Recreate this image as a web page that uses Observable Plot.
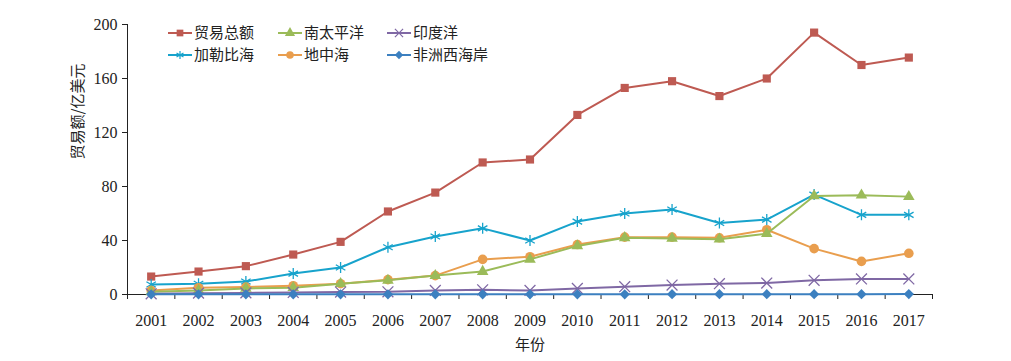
<!DOCTYPE html>
<html><head><meta charset="utf-8">
<script src="https://cdn.jsdelivr.net/npm/d3@7"></script>
<script src="https://cdn.jsdelivr.net/npm/@observablehq/plot@0.6"></script>
<style>
body{margin:0;background:#fff;}
#wrap{position:relative;width:1011px;height:361px;}
#legend{position:absolute;left:0;top:0;width:1011px;height:70px;pointer-events:none;}
</style></head><body>
<div id="wrap"><div id="chart"></div><svg id="legend" width="1011" height="70"></svg></div>
<script>
const years = [2001,2002,2003,2004,2005,2006,2007,2008,2009,2010,2011,2012,2013,2014,2015,2016,2017];
const seriesNames = ["贸易总额","南太平洋","印度洋","加勒比海","地中海","非洲西海岸"];
const total      = [13.3,17,21,29.6,39,61.5,75.5,97.8,100,133,153,158,147,160,194,170,175.5];
const southPac   = [2,3,4.5,5,8,10.5,14,17,26,36,42,41.5,41,45,73,73.5,72.5];
const indianOc   = [0.5,1,1.2,1.5,1.8,2,3,3.5,3,4.5,5.8,7,8,8.5,10.5,11.5,11.5];
const caribbean  = [7.4,8,9.6,15.5,20,35,43,49,40,54,60,63,53,55.5,74,59,59];
const mediter    = [3,5,5.5,6.5,8,11,14,26,28,37,42.5,42.5,42,48,34,24.5,30.5];
const westAfrica = [0.1,0.1,0.1,0.1,0.1,0.1,0.1,0.1,0.1,0.1,0.1,0.2,0.2,0.2,0.2,0.2,0.3];
const yTicks = [0,40,80,120,160,200];

const values = [total,southPac,indianOc,caribbean,mediter,westAfrica];
const colors = ["#BE5A52","#9BBB59","#7F68A4","#17A3CC","#E99E4E","#3C80C0"];
const symbols = ["square","triangle","times","asterisk","circle","diamond2"];
const sizes = [4.6,4.3,5,5.2,4.8,4.6];
const filled = [true,true,false,false,true,true];
const data = [];
seriesNames.forEach((s,i)=>years.forEach((y,j)=>data.push({series:s, year:y, value:values[i][j]})));
const drawOrder = [0,3,4,1,2,5];

const marks = [];
const serif = "'Liberation Serif','Times New Roman',serif";
marks.push(Plot.axisX({ticks: years.map(y=>y-0.5).concat([2017.5]), tickFormat: ()=>"", tickSize:5, stroke:"#222", label:null}));
marks.push(Plot.axisX({ticks: years, tickFormat: d=>String(d), tickSize:0, tickPadding:20, fontSize:16, fontFamily:serif, fill:"#222", label:null}));
marks.push(Plot.axisY({ticks: yTicks, tickSize:5, tickPadding:5, fontSize:16, fontFamily:serif, fill:"#222", stroke:"#222", label:null}));
marks.push(Plot.ruleY([0], {stroke:"#222"}));
marks.push(Plot.ruleX([2000.5], {stroke:"#222", y1:0, y2:200}));
for (const i of drawOrder) {
  const d = data.filter(r=>r.series===seriesNames[i]);
  marks.push(Plot.line(d, {x:"year", y:"value", stroke:colors[i], strokeWidth:2}));
  marks.push(Plot.dot(d, {x:"year", y:"value", symbol:()=>symbols[i], r: sizes[i],
    fill: filled[i]?colors[i]:"none", stroke: colors[i], strokeWidth: filled[i]?0:1.3}));
}
marks.push(Plot.text(["贸易额/亿美元"], {frameAnchor:"left", dx:-49, rotate:-90, fontSize:15, fill:"#222", fontFamily:"'Noto Sans CJK SC'"}));
marks.push(Plot.text(["年份"], {frameAnchor:"bottom", dy:55, fontSize:15, fill:"#222", fontFamily:"'Noto Sans CJK SC'"}));

const chart = Plot.plot({
  width:1011, height:361,
  marginLeft:127, marginRight:79, marginTop:24, marginBottom:67,
  x:{domain:[2000.5,2017.5]},
  y:{domain:[0,200]},
  symbol:{type:"identity"},
  style:{background:"#fff", overflow:"visible"},
  marks
});
document.getElementById("chart").appendChild(chart);

// legend
const lg = d3.select("#legend");
const pos = [[168,33],[278,33],[387,33],[168,55],[278,55],[387,55]];
const legNames = ["贸易总额","南太平洋","印度洋","加勒比海","地中海","非洲西海岸"];
const legIdx = [0,1,2,3,4,5];
legIdx.forEach((i,k)=>{
  const [x,y] = pos[k];
  const g = lg.append("g");
  g.append("line").attr("x1",x).attr("x2",x+24).attr("y1",y).attr("y2",y).attr("stroke",colors[i]).attr("stroke-width",2);
  const sym = {square:d3.symbolSquare,triangle:d3.symbolTriangle,times:d3.symbolTimes,asterisk:d3.symbolAsterisk,circle:d3.symbolCircle,diamond2:d3.symbolDiamond2}[symbols[i]];
  g.append("path").attr("d", d3.symbol(sym, 45)()).attr("transform",`translate(${x+12},${y})`)
    .attr("fill", filled[i]?colors[i]:"none").attr("stroke", filled[i]?"none":colors[i]).attr("stroke-width",1.2);
  g.append("text").attr("x",x+26).attr("y",y).attr("dy","0.35em").attr("font-size",15)
    .attr("font-family","'Noto Sans CJK SC'").attr("fill","#222").text(legNames[k]);
});
</script>
</body></html>
